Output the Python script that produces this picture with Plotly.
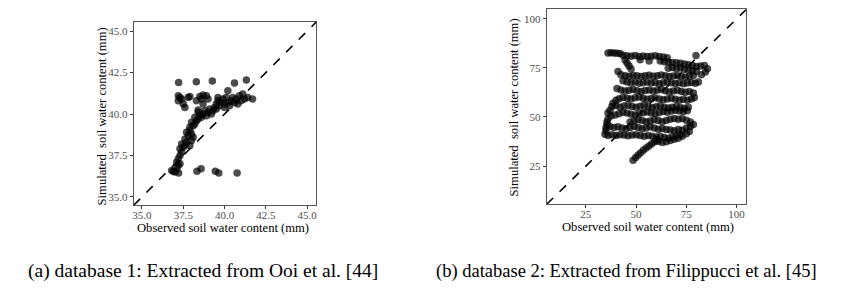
import plotly.graph_objects as go

# ---------------- data: panel (a) database 1 ----------------
obs_a = [36.8, 37.0, 37.1, 37.2, 37.1, 37.3, 37.2, 37.3, 37.4, 37.3, 37.5, 37.4, 37.6, 37.7, 37.6,
         37.8, 37.7, 37.9, 38.0, 37.9, 38.1, 38.0, 38.2, 38.3, 38.2, 38.4, 38.5, 38.4, 38.6, 38.7,
         38.8, 38.9, 39.0, 39.1, 39.2, 39.3, 39.4, 39.5, 39.5, 39.6, 39.7, 39.8, 39.9, 40.0, 40.1,
         40.0, 40.2, 40.3, 40.4, 40.5, 40.6, 40.7, 40.8, 40.9, 41.0, 41.1, 41.2, 41.4, 41.7, 40.2,
         39.6, 37.9, 38.0, 38.1, 36.9,
         37.2, 37.3, 37.2, 37.5, 37.6, 37.4, 37.8, 37.9,
         38.3, 38.5, 38.7, 38.9, 38.7, 38.4, 38.6, 39.0,
         37.22, 38.29, 39.26, 40.6, 41.32,
         37.22, 38.33, 38.58, 39.44, 39.65, 40.76]
sim_a = [36.6, 36.5, 36.7, 36.9, 37.1, 37.0, 37.3, 37.5, 37.7, 37.9, 38.0, 38.2, 38.1, 38.3, 38.5,
         38.7, 38.9, 39.0, 38.8, 39.2, 39.3, 39.5, 39.4, 39.6, 39.8, 39.7, 39.9, 40.1, 39.8, 40.0,
         40.2, 39.9, 40.1, 40.3, 40.0, 40.2, 40.4, 40.3, 40.6, 40.8, 40.5, 40.7, 40.9, 40.6, 41.0,
         40.4, 40.7, 40.5, 40.8, 41.0, 40.7, 40.9, 40.6, 41.1, 40.8, 41.2, 40.9, 41.0, 40.9, 41.4,
         41.0, 38.1, 38.4, 38.6, 36.55,
         41.1, 41.0, 40.8, 40.6, 40.4, 40.9, 41.0, 41.05,
         40.8, 41.05, 41.15, 41.1, 40.6, 40.25, 40.9, 40.9,
         41.9, 41.95, 41.99, 41.87, 42.05,
         36.45, 36.55, 36.7, 36.55, 36.45, 36.45]

# ---------------- data: panel (b) database 2 ----------------
obs_b = [36, 37.5, 39, 40.5, 42,
         43.5, 45.5, 47.5, 49.5, 51.5, 53.5, 55.5, 57.5, 59.5, 61.5, 63.5, 65.5,
         44.5, 45.5, 46.5, 47.5, 56.5, 52,
         79.8,
         62, 64, 66, 68, 70, 72, 74, 76, 78, 80, 82, 84, 85.5, 84.5, 82.5,
         66, 68, 70, 72, 74, 76, 78, 80,
         41, 42.5, 44.5, 46.5, 48.5, 50.5, 52.5, 54.5, 56.5, 58.5, 60.5, 62.5, 64.5, 66.5, 68.5, 70.5, 72.5, 74.5, 76.5, 78.5,
         43.5, 45.5, 47.5, 49.5, 51.5, 53.5, 55.5, 57.5, 59.5, 61.5, 63.5, 65.5, 67.5, 69.5, 71.5, 73.5, 75.5, 77.5, 79.5, 81,
         40.5, 42.5, 44.5, 46.5, 48.5, 50.5, 52.5, 54.5, 56.5, 58.5, 60.5, 62.5, 64.5, 66.5, 68.5, 70.5, 72.5, 74.5, 76.5, 78.5,
         41.5, 43.5, 45.5, 47.5, 49.5, 51.5, 53.5, 55.5, 57.5, 59.5, 61.5, 63.5, 65.5, 67.5, 69.5, 71.5, 73.5, 75.5, 77.5, 79,
         38, 40, 42, 44, 46, 48, 50, 52, 54, 56, 58, 60, 62, 64, 66, 68, 70, 72, 74, 76,
         36, 37.5, 39.5, 41.5, 43.5, 45.5, 47.5, 49.5, 51.5, 53.5, 55.5, 57.5, 59.5, 61.5, 63.5, 65.5, 67.5, 69.5, 71.5, 73.5, 75.5,
         35.5, 47, 49, 51, 53, 55, 57, 59, 61, 63, 65, 67, 69, 71, 73, 75, 77, 78.5,
         35, 37, 39, 41, 43, 45, 47, 49, 51, 53, 55, 57, 59, 61, 63, 65, 67, 69, 71, 73, 75, 77,
         34.5, 36, 38, 40, 42, 44, 46, 48, 50, 52, 54, 56, 58, 60, 62, 64, 66, 68, 70, 72,
         61, 63, 65, 67, 69, 71, 73, 75, 76.5,
         48.5, 49.8, 51, 52.3, 53.6, 55, 56.4, 57.8, 59.2, 60.4,
         35, 35.5, 36, 37, 38.5, 40]
sim_b = [82.6, 82.7, 82.6, 82.5, 82.4,
         81.5, 81.2, 81.0, 81.3, 80.9, 81.1, 80.8, 81.0, 81.2, 80.9, 80.6, 80.2,
         79.0, 77.5, 76.0, 74.5, 78.5, 79.2,
         81.3,
         78.6, 78.2, 78.0, 77.8, 77.6, 77.4, 77.0, 76.6, 76.2, 75.8, 76.0, 76.3, 74.6, 73.0, 71.5,
         74.8, 75.2, 74.6, 75.0, 74.4, 74.0, 73.6, 73.2,
         73.2, 71.5, 71.0, 70.8, 71.2, 71.0, 70.6, 71.0, 71.3, 70.8, 71.0, 71.4, 71.0, 70.6, 70.9, 71.2, 70.8, 70.4, 70.8, 71.2,
         68.5, 67.8, 67.4, 67.8, 67.2, 67.5, 67.9, 67.3, 67.6, 67.0, 67.4, 67.8, 67.5, 67.1, 67.4, 67.0, 67.3, 67.6, 67.2, 67.8,
         64.5, 63.8, 63.2, 63.6, 64.0, 63.4, 63.0, 63.5, 63.8, 63.2, 63.6, 64.0, 63.4, 62.8, 63.2, 63.6, 63.0, 62.6, 63.0, 62.2,
         59.3, 60.0, 59.6, 59.2, 59.8, 60.2, 59.6, 59.0, 59.4, 59.8, 59.2, 58.8, 59.2, 59.6, 59.0, 58.6, 59.0, 58.6, 59.2, 60.0,
         55.4, 55.8, 55.0, 55.6, 56.0, 55.4, 55.0, 55.5, 56.0, 55.4, 54.8, 55.2, 55.6, 55.0, 54.6, 55.0, 55.4, 54.8, 54.4, 55.0,
         52.0, 50.5, 51.0, 51.6, 52.4, 52.0, 51.4, 51.0, 51.6, 52.2, 52.6, 52.0, 51.6, 52.2, 52.8, 52.4, 53.0, 53.4, 53.0, 52.8, 53.2,
         47.5, 47.5, 48.0, 48.6, 48.2, 47.6, 48.0, 48.6, 48.2, 47.6, 48.2, 48.8, 49.2, 48.8, 49.2, 48.4, 47.4, 46.2,
         44.5, 45.2, 44.6, 45.0, 44.4, 44.0, 44.6, 45.2, 44.6, 44.0, 44.4, 45.0, 44.4, 43.8, 44.2, 43.6, 43.4, 43.0, 43.6, 43.2, 44.4, 45.2,
         41.2, 40.6, 41.0, 40.6, 41.0, 40.8, 40.4, 40.8, 41.0, 40.6, 40.2, 40.6, 40.2, 39.8, 40.2, 39.6, 39.2, 39.8, 40.4, 41.0,
         37.6, 37.0, 37.4, 38.0, 38.6, 39.2, 40.2, 41.4, 42.6,
         28.0, 29.4, 30.6, 31.8, 33.0, 34.2, 35.2, 36.3, 37.4, 38.4,
         43, 46, 49, 53.5, 57, 58.5]

range_a = [34.5, 45.55]
ticks_a = [35.0, 37.5, 40.0, 42.5, 45.0]
range_b = [5.5, 104.8]
ticks_b = [25, 50, 75, 100]

x_title = "Observed soil water content (mm)"
y_title = "Simulated  soil water content (mm)"
cap_a = "(a) database 1: Extracted from Ooi et al. [44]"
cap_b = "(b) database 2: Extracted from Filippucci et al. [45]"

# the page body adds an 8px margin: the figure is sized to fit inside it
OFF = 8
W, H = 842 - 2 * OFF, 293 - 2 * OFF
SERIF = "Liberation Serif, Times New Roman, serif"
PT_COLOR = "rgba(0,0,0,0.7)"

fig = go.Figure()

# identity lines
fig.add_trace(go.Scatter(x=range_a, y=range_a, mode="lines", xaxis="x", yaxis="y",
                         line=dict(color="black", width=1.6, dash="dash"), hoverinfo="skip"))
fig.add_trace(go.Scatter(x=range_b, y=range_b, mode="lines", xaxis="x2", yaxis="y2",
                         line=dict(color="black", width=1.6, dash="dash"), hoverinfo="skip"))
# points
fig.add_trace(go.Scatter(x=obs_a, y=sim_a, mode="markers", xaxis="x", yaxis="y",
                         marker=dict(color=PT_COLOR, size=7.5, line=dict(width=0))))
fig.add_trace(go.Scatter(x=obs_b, y=sim_b, mode="markers", xaxis="x2", yaxis="y2",
                         marker=dict(color=PT_COLOR, size=7.5, line=dict(width=0))))

def px_x(p):
    return min(1.0, max(0.0, (p - OFF) / W))

def px_y(p):
    return min(1.0, max(0.0, 1 - (p - OFF) / H))

axis_common = dict(showgrid=False, zeroline=False, showline=True, mirror=True,
                   linecolor="#555555", linewidth=1, ticks="outside", ticklen=3,
                   tickcolor="#333333", tickwidth=1,
                   tickfont=dict(family=SERIF, size=11, color="#4d4d4d"))

fig.update_layout(
    width=W, height=H, autosize=False,
    margin=dict(l=0, r=0, t=0, b=0),
    paper_bgcolor="white", plot_bgcolor="white",
    showlegend=False,
    xaxis=dict(domain=[px_x(133), px_x(316)], range=range_a, tickvals=ticks_a,
               tickformat=".1f", anchor="y", ticklabelstandoff=-3, **axis_common),
    yaxis=dict(domain=[px_y(205), px_y(21)], range=range_a, tickvals=ticks_a,
               tickformat=".1f", anchor="x", **axis_common),
    xaxis2=dict(domain=[px_x(547), px_x(747)], range=range_b, tickvals=ticks_b,
                anchor="y2", ticklabelstandoff=-3, **axis_common),
    yaxis2=dict(domain=[px_y(204), px_y(8.5)], range=range_b, tickvals=ticks_b,
                anchor="x2", **axis_common),
)

ann = []
def add_text(text, x, y, size, angle=0):
    ann.append(dict(text=text, x=px_x(x), y=px_y(y), xref="paper", yref="paper",
                    showarrow=False, xanchor="center", yanchor="middle", textangle=angle,
                    font=dict(family=SERIF, size=size, color="black")))

add_text(x_title, 223, 228, 12.6)
add_text(y_title, 101, 116, 12.6, -90)
add_text(x_title, 649, 227, 12.6)
add_text(y_title, 514, 107, 12.6, -90)
add_text(cap_a, 202, 271, 19.5)
add_text(cap_b, 627, 271, 18.5)
fig.update_layout(annotations=ann)

fig.write_html("out.html")
